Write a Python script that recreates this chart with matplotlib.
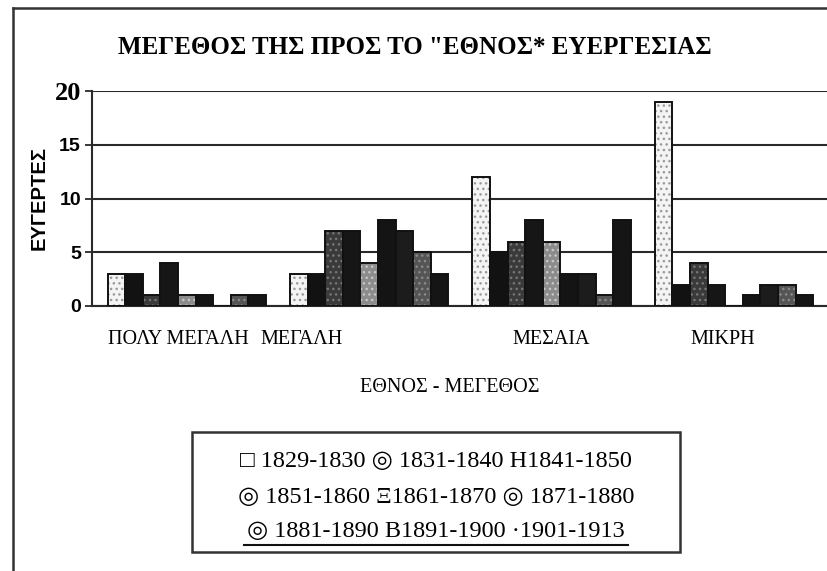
import matplotlib
matplotlib.use("Agg")
import matplotlib.pyplot as plt
import matplotlib.transforms as mtrans
from matplotlib.lines import Line2D
import numpy as np

categories = ["ΠΟΛΥ ΜΕΓΑΛΗ", "ΜΕΓΑΛΗ", "ΜΕΣΑΙΑ", "ΜΙΚΡΗ"]
series_labels = ["1829-1830", "1831-1840", "1841-1850", "1851-1860", "1861-1870",
                 "1871-1880", "1881-1890", "1891-1900", "1901-1913"]
# values[series][category]
s1829 = [3, 3, 12, 19]
s1831 = [3, 3, 5, 2]
s1841 = [1, 7, 6, 4]
s1851 = [4, 7, 8, 2]
s1861 = [1, 4, 6, 0]
s1871 = [1, 8, 3, 1]
s1881 = [0, 7, 3, 2]
s1891 = [1, 5, 1, 2]
s1901 = [1, 3, 8, 1]
series_values = [s1829, s1831, s1841, s1851, s1861, s1871, s1881, s1891, s1901]
yticks = [0, 5, 10, 15, 20]
legend_lines = ["□ 1829-1830 ◎ 1831-1840 H1841-1850",
                "◎ 1851-1860 Ξ1861-1870 ◎ 1871-1880",
                "◎ 1881-1890 B1891-1900 ·1901-1913"]

colors = ["#f4f4f4", "#121212", "#3a3a3a", "#161616", "#8c8c8c",
          "#141414", "#1c1c1c", "#555555", "#151515"]
hatches = ["...", None, "...", None, "...", None, None, "...", None]
hatch_cols = ["#9a9a9a", None, "#777777", None, "#c8c8c8", None, None, "#8a8a8a", None]

W, H = 827, 571
fig = plt.figure(figsize=(W / 100, H / 100), dpi=100)
fig.patch.set_facecolor("white")

ax = fig.add_axes([92 / W, 1 - 306 / H, (W - 92) / W, (306 - 91) / H])
x = np.arange(len(categories))
bw = 0.0965
n = len(series_values)
for i, (vals, lab) in enumerate(zip(series_values, series_labels)):
    off = (i - (n - 1) / 2) * bw
    if hatches[i]:
        ax.bar(x + off, vals, width=bw, color=colors[i], edgecolor=hatch_cols[i],
               linewidth=0, hatch=hatches[i], zorder=3)
        ax.bar(x + off, vals, width=bw, facecolor="none", edgecolor="#111111",
               linewidth=1.4, label=lab, zorder=4)
    else:
        ax.bar(x + off, vals, width=bw, color=colors[i], edgecolor="#111111",
               linewidth=1.4, label=lab, zorder=3)

ax.set_ylim(0, 20)
ax.set_xlim(-0.52, 3.51)
ax.set_yticks(yticks)
ax.yaxis.grid(True, color="#2a2a2a", linewidth=1.5, zorder=0)
for s in ["top", "right"]:
    ax.spines[s].set_visible(False)
for s in ["left", "bottom"]:
    ax.spines[s].set_linewidth(1.5)
    ax.spines[s].set_color("#2a2a2a")
ax.tick_params(axis="y", length=5, width=1.3, color="#2a2a2a", pad=3)
ax.tick_params(axis="x", length=0, pad=17)

labs = ax.set_yticklabels([str(v) for v in yticks])
for t, v in zip(labs, yticks):
    if v == 20:
        t.set_fontfamily("Liberation Serif")
        t.set_fontweight("bold")
        t.set_fontsize(19)
    else:
        t.set_fontfamily("Liberation Sans")
        t.set_fontweight("bold")
        t.set_fontsize(14)

ax.set_xticks(x)
xl = ax.set_xticklabels(categories, family="Liberation Serif", fontsize=14.5)
offsets = [-8, -68, 0, -11]
for t, o in zip(xl, offsets):
    t.set_transform(t.get_transform() + mtrans.ScaledTranslation(o / 100, 0, fig.dpi_scale_trans))

fig.text(39 / W, 1 - 198 / H, "ΕΥΓΕΡΤΕΣ", family="Liberation Sans", fontweight="bold",
         fontsize=14.5, rotation=90, ha="center", va="center")

fig.text(415 / W, 1 - 47 / H, "ΜΕΓΕΘΟΣ ΤΗΣ ΠΡΟΣ ΤΟ \"ΕΘΝΟΣ* ΕΥΕΡΓΕΣΙΑΣ",
         family="Liberation Serif", fontweight="bold", fontsize=18,
         ha="center", va="center")
fig.text(450 / W, 1 - 388 / H, "ΕΘΝΟΣ - ΜΕΓΕΘΟΣ", family="Liberation Serif",
         fontsize=14.5, ha="center", va="center")

# legend box
fig.patches.append(plt.Rectangle((192 / W, 1 - 552 / H), (680 - 192) / W, (552 - 432) / H,
                                 transform=fig.transFigure, fill=False,
                                 edgecolor="#333333", linewidth=1.8))
for k, (line, yy) in enumerate(zip(legend_lines, [462, 497, 531])):
    fig.text(436 / W, 1 - yy / H, line, family=["Liberation Serif", "DejaVu Sans"],
             fontsize=17.5, ha="center", va="center")
fig.lines.append(Line2D([244 / W, 628 / W], [1 - 545 / H, 1 - 545 / H],
                        transform=fig.transFigure, color="#111111", linewidth=1.5))

# outer frame
fig.lines.append(Line2D([13 / W, 13 / W], [0, 1 - 8 / H], transform=fig.transFigure,
                        color="#333333", linewidth=1.8))
fig.lines.append(Line2D([13 / W, 1], [1 - 8 / H, 1 - 8 / H], transform=fig.transFigure,
                        color="#333333", linewidth=1.8))

fig.savefig("out.png", dpi=100)
